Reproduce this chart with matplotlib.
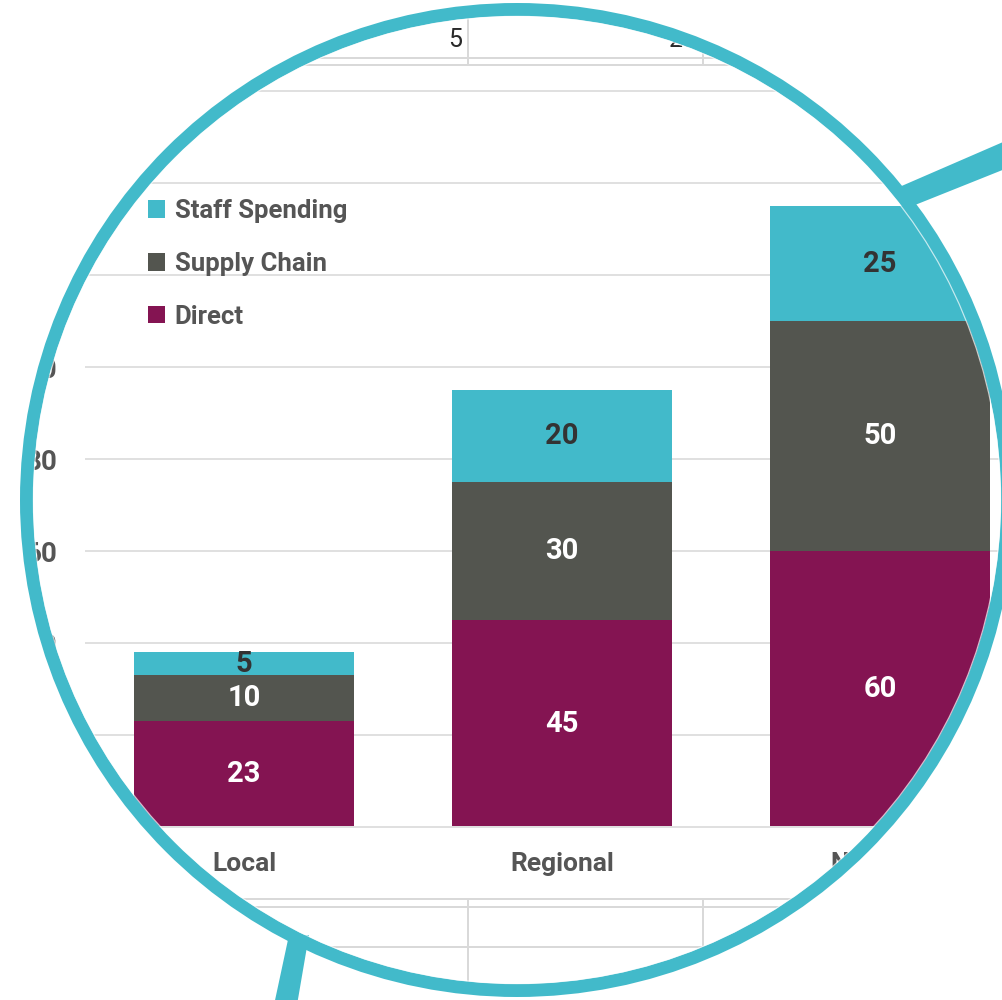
import matplotlib
matplotlib.use("Agg")
import matplotlib.pyplot as plt
from matplotlib.patches import Circle, PathPatch, Polygon
from matplotlib.path import Path
import numpy as np

plt.rcParams['font.family'] = ['Roboto', 'DejaVu Sans']

# ---- data -------------------------------------------------------------
categories = ["Local", "Regional", "National"]
direct = [23, 45, 60]
supply_chain = [10, 30, 50]
staff_spending = [5, 20, 25]
y_ticks = [0, 20, 40, 60, 80, 100, 120, 140, 160]

# ---- style ------------------------------------------------------------
TEAL = "#42BACA"
SUPPLY = "#53554F"
DIRECT = "#841452"
TEXT = "#555555"
GRID = "#E0E0E0"
SHEET = "#D9D9D9"

W, H = 1002, 1000
PX = 72 / 100  # points per pixel at dpi 100

fig = plt.figure(figsize=(W / 100, H / 100), dpi=100)
fig.patch.set_facecolor("white")


def frac(x0, y0, x1, y1):
    """Pixel box (origin top-left) -> figure-fraction rect."""
    return [x0 / W, 1 - y1 / H, (x1 - x0) / W, (y1 - y0) / H]


# ---- spreadsheet backdrop (pixel coordinates) ---------------------------
bg = fig.add_axes([0, 0, 1, 1], zorder=0)
bg.set_xlim(0, W)
bg.set_ylim(H, 0)
bg.axis("off")

cell_edges = [468, 703, 938]
sheet_lw = 2 * PX
for yy in (58, 65):
    bg.plot([0, W], [yy, yy], color=SHEET, lw=sheet_lw)
for xx in cell_edges:
    bg.plot([xx, xx], [0, 65], color=SHEET, lw=sheet_lw)
for edge, val in zip(cell_edges, staff_spending):
    bg.text(edge - 6, 40, str(val), ha="right", va="center",
            fontsize=18, color="#2a2a2a")

for yy in (899, 907, 947, 987):
    bg.plot([0, W], [yy, yy], color=SHEET, lw=sheet_lw)
for xx in cell_edges:
    bg.plot([xx, xx], [899, H], color=SHEET, lw=sheet_lw)

# ---- stacked bar chart --------------------------------------------------
PX_PER_UNIT = 4.6
Y_TOP = 165
base_px = 827
ax = fig.add_axes(frac(85, base_px - Y_TOP * PX_PER_UNIT, 1039, base_px), zorder=1)
ax.set_facecolor("none")

x = np.arange(len(categories))
bw = 0.69
lower2 = np.array(direct)
lower3 = lower2 + np.array(supply_chain)

b_direct = ax.bar(x, direct, bw, color=DIRECT, label="Direct")
b_supply = ax.bar(x, supply_chain, bw, bottom=lower2, color=SUPPLY, label="Supply Chain")
b_staff = ax.bar(x, staff_spending, bw, bottom=lower3, color=TEAL, label="Staff Spending")

ax.set_xlim(-0.5, 2.5)
ax.set_ylim(0, Y_TOP)
ax.set_yticks(y_ticks)
ax.set_xticks(x, categories)
ax.yaxis.grid(True, color=GRID, lw=2 * PX)
ax.set_axisbelow(True)
for name, sp in ax.spines.items():
    sp.set_visible(name == "bottom")
ax.spines["bottom"].set_color(GRID)
ax.spines["bottom"].set_linewidth(2 * PX)
ax.tick_params(axis="both", length=0)
ax.tick_params(axis="y", pad=20, labelsize=20, labelcolor=TEXT)
ax.tick_params(axis="x", pad=18, labelsize=19, labelcolor=TEXT)
for lab in ax.get_xticklabels() + ax.get_yticklabels():
    lab.set_fontweight("bold")

ax.bar_label(b_direct, label_type="center", color="white", fontsize=21, fontweight="bold")
ax.bar_label(b_supply, label_type="center", color="white", fontsize=21, fontweight="bold")
ax.bar_label(b_staff, label_type="center", color="#333333", fontsize=21, fontweight="bold")

leg = ax.legend(handles=[b_staff, b_supply, b_direct],
                loc="upper left", bbox_to_anchor=(148 / W, 1 - 199 / H),
                bbox_transform=fig.transFigure, frameon=False,
                borderpad=0, borderaxespad=0,
                handlelength=0.68, handleheight=0.68, handletextpad=0.36,
                labelspacing=1.12,
                prop={"size": 18.5, "weight": "bold"}, labelcolor=TEXT)

# ---- magnifier lens overlay ---------------------------------------------
ov = fig.add_axes([0, 0, 1, 1], zorder=5)
ov.set_xlim(0, W)
ov.set_ylim(H, 0)
ov.axis("off")
ov.patch.set_alpha(0)

cx, cy, r = 517, 500, 490.5
theta = np.linspace(0, 2 * np.pi, 400)
circ = np.column_stack([cx + r * np.cos(theta), cy + r * np.sin(theta)])
rect = np.array([[-20, -20], [W + 20, -20], [W + 20, H + 20], [-20, H + 20], [-20, -20]])
verts = np.concatenate([rect, circ[::-1]])
codes = ([Path.MOVETO] + [Path.LINETO] * 3 + [Path.CLOSEPOLY]
         + [Path.MOVETO] + [Path.LINETO] * (len(circ) - 2) + [Path.CLOSEPOLY])
ov.add_patch(PathPatch(Path(verts, codes), facecolor="white", edgecolor="none"))

# handle pieces
ov.add_patch(Polygon([(289, 935), (309, 935), (297, 1005), (274, 1005)],
                     closed=True, facecolor=TEAL, edgecolor="none"))
ov.add_patch(Polygon([(897, 188), (1010, 139), (1010, 167), (910, 207)],
                     closed=True, facecolor=TEAL, edgecolor="none"))

ov.add_patch(Circle((cx, cy), r, fill=False, edgecolor=TEAL, lw=13 * PX))
ov.add_patch(Circle((cx, cy), 483.6, fill=False, edgecolor="white", lw=1.2 * PX, alpha=0.7))

fig.savefig("out.png", dpi=100, facecolor="white")
